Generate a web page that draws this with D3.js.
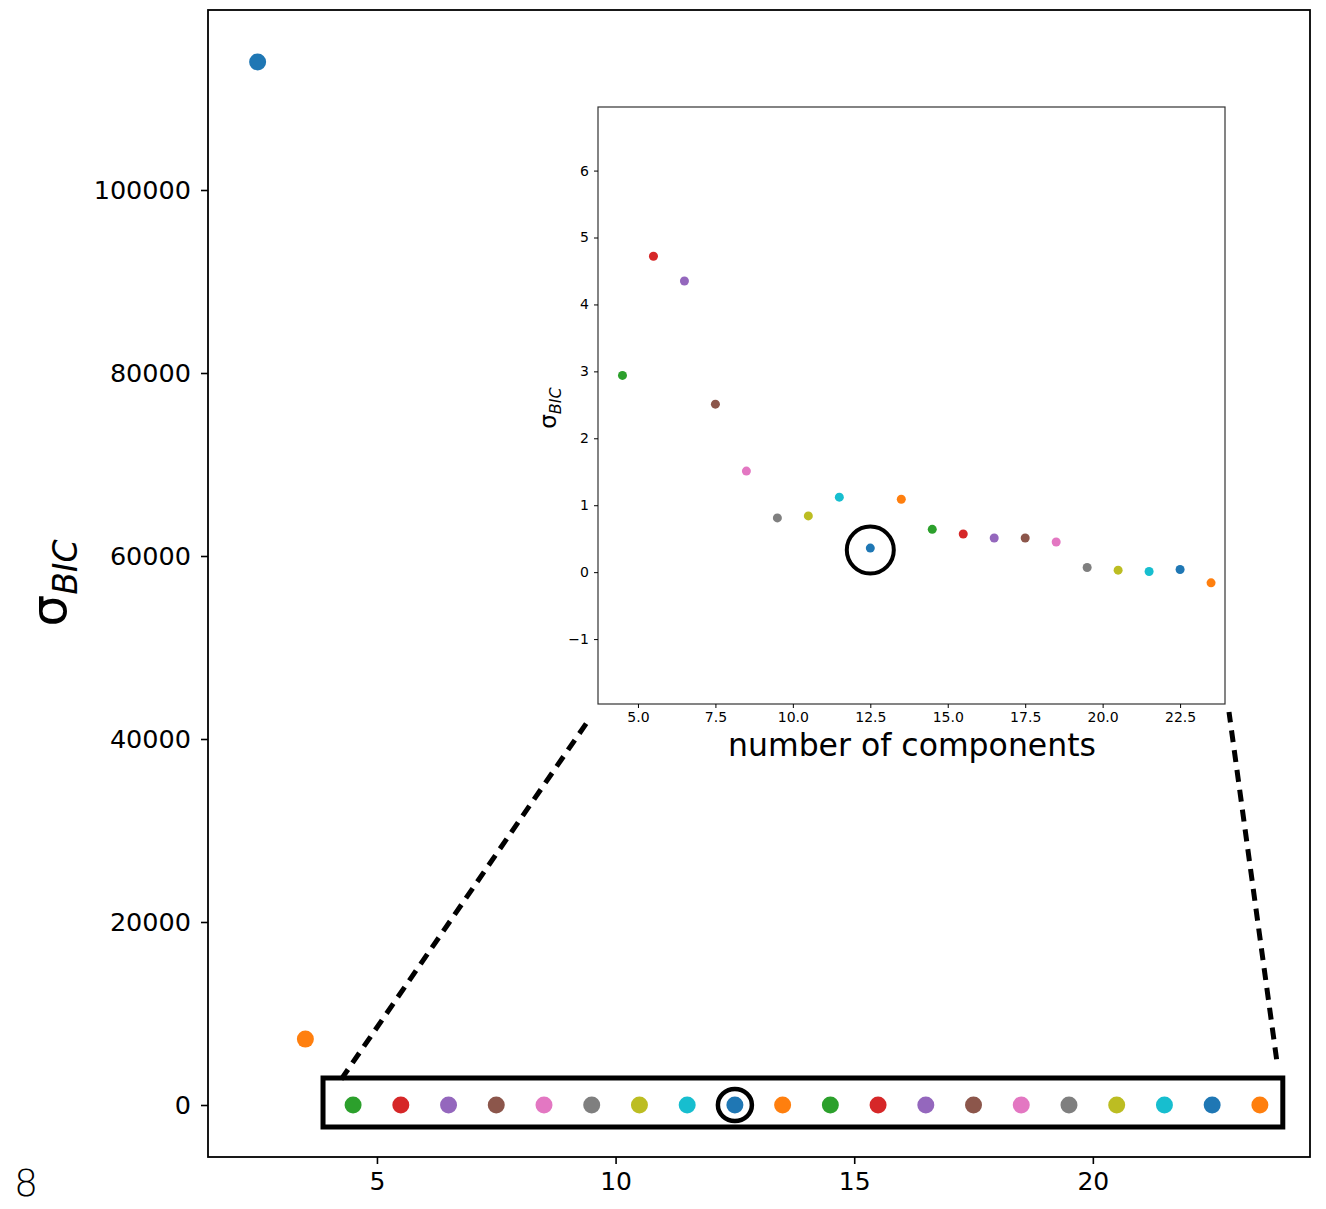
<!DOCTYPE html>
<html>
<head>
<meta charset="utf-8">
<script src="https://d3js.org/d3.v7.min.js"></script>
<style>
body { margin: 0; background: #fff; }
text { font-family: "DejaVu Sans", sans-serif; fill: #000; }
</style>
</head>
<body>
<div id="chart"></div>
<script>
// main panel: number of components vs sigma_BIC
var mainX = [2.5, 3.5, 4.5, 5.5, 6.5, 7.5, 8.5, 9.5, 10.5, 11.5, 12.5, 13.5, 14.5, 15.5, 16.5, 17.5, 18.5, 19.5, 20.5, 21.5, 22.5, 23.5];
var mainY = [114000, 7200, 2.94, 4.72, 4.35, 2.51, 1.51, 0.81, 0.84, 1.12, 0.36, 1.09, 0.64, 0.57, 0.51, 0.51, 0.45, 0.07, 0.03, 0.01, 0.04, -0.16];
var mainXTicks = [5, 10, 15, 20];
var mainYTicks = [0, 20000, 40000, 60000, 80000, 100000];

// zoomed inset (components 4.5 .. 23.5)
var insetX = mainX.slice(2);
var insetY = mainY.slice(2);
var insetXTicks = [5.0, 7.5, 10.0, 12.5, 15.0, 17.5, 20.0, 22.5];
var insetYTicks = [-1, 0, 1, 2, 3, 4, 5, 6];
var chosen = 12.5;

var tab10 = ["#1f77b4", "#ff7f0e", "#2ca02c", "#d62728", "#9467bd", "#8c564b", "#e377c2", "#7f7f7f", "#bcbd22", "#17becf"];

var W = 1326, H = 1209;
var svg = d3.select("#chart").append("svg")
  .attr("width", W).attr("height", H);

// ---- main axes
var x = d3.scaleLinear().domain([1.46, 24.55]).range([208, 1310]);
var y = d3.scaleLinear().domain([-5683, 119672]).range([1157, 10]);

svg.append("g")
  .attr("transform", "translate(0,1157)")
  .call(d3.axisBottom(x).tickValues(mainXTicks).tickSize(7).tickPadding(8).tickFormat(d3.format("d")))
  .call(function(g) { g.select(".domain").remove(); g.selectAll("text").attr("font-size", 25); g.selectAll("line").attr("stroke-width", 1.6); });
svg.append("g")
  .attr("transform", "translate(208,0)")
  .call(d3.axisLeft(y).tickValues(mainYTicks).tickSize(7).tickPadding(10).tickFormat(d3.format("d")))
  .call(function(g) { g.select(".domain").remove(); g.selectAll("text").attr("font-size", 25.5); g.selectAll("line").attr("stroke-width", 1.6); });

svg.append("rect")
  .attr("x", 208).attr("y", 10).attr("width", 1310 - 208).attr("height", 1157 - 10)
  .attr("fill", "none").attr("stroke", "#000").attr("stroke-width", 1.8);

svg.append("g").selectAll("circle")
  .data(mainX)
  .enter().append("circle")
  .attr("cx", function(d) { return x(d); })
  .attr("cy", function(d, i) { return y(mainY[i]); })
  .attr("r", 8.5)
  .attr("fill", function(d, i) { return tab10[i % 10]; });

// highlight box around the near-zero points
var boxX = [3.87, 23.98], boxY = [2951, -2404];
svg.append("rect")
  .attr("x", x(boxX[0])).attr("y", y(boxY[0]))
  .attr("width", x(boxX[1]) - x(boxX[0])).attr("height", y(boxY[1]) - y(boxY[0]))
  .attr("fill", "none").attr("stroke", "#000").attr("stroke-width", 5);

svg.append("ellipse")
  .attr("cx", x(chosen)).attr("cy", y(0))
  .attr("rx", 17).attr("ry", 16)
  .attr("fill", "none").attr("stroke", "#000").attr("stroke-width", 4.5);

svg.append("text")
  .attr("transform", "translate(66,583) rotate(-90)")
  .attr("text-anchor", "middle")
  .attr("font-size", 50)
  .html('σ<tspan font-size="33" dy="11" font-style="italic">BIC</tspan>');

svg.append("text")
  .attr("x", 26).attr("y", 1196)
  .attr("text-anchor", "middle")
  .attr("font-family", "Open Sans")
  .attr("font-weight", 300)
  .attr("font-size", 38)
  .text("8");

// ---- inset
var ix = d3.scaleLinear().domain([3.71, 23.95]).range([598, 1225]);
var iy = d3.scaleLinear().domain([-1.97, 6.95]).range([704, 107]);

svg.append("rect")
  .attr("x", 598).attr("y", 107).attr("width", 1225 - 598).attr("height", 704 - 107)
  .attr("fill", "#fff").attr("stroke", "#333").attr("stroke-width", 1.2);

svg.append("g")
  .attr("transform", "translate(0,704)")
  .call(d3.axisBottom(ix).tickValues(insetXTicks).tickSize(4).tickPadding(4).tickFormat(d3.format(".1f")))
  .call(function(g) { g.select(".domain").remove(); g.selectAll("text").attr("font-size", 14); });
svg.append("g")
  .attr("transform", "translate(598,0)")
  .call(d3.axisLeft(iy).tickValues(insetYTicks).tickSize(4).tickPadding(5).tickFormat(function(d) { return d < 0 ? "\u2212" + Math.abs(d) : d; }))
  .call(function(g) { g.select(".domain").remove(); g.selectAll("text").attr("font-size", 14); });

svg.append("g").selectAll("circle")
  .data(insetX)
  .enter().append("circle")
  .attr("cx", function(d) { return ix(d); })
  .attr("cy", function(d, i) { return iy(insetY[i]); })
  .attr("r", 4.5)
  .attr("fill", function(d, i) { return tab10[(i + 2) % 10]; });

svg.append("circle")
  .attr("cx", ix(chosen)).attr("cy", iy(insetY[insetX.indexOf(chosen)]) + 2)
  .attr("r", 23.5)
  .attr("fill", "none").attr("stroke", "#000").attr("stroke-width", 4);

svg.append("text")
  .attr("x", 912).attr("y", 756)
  .attr("text-anchor", "middle")
  .attr("font-size", 31.5)
  .text("number of components");

svg.append("text")
  .attr("transform", "translate(556,408) rotate(-90)")
  .attr("text-anchor", "middle")
  .attr("font-size", 23)
  .html('σ<tspan font-size="16" dy="5" font-style="italic">BIC</tspan>');

// ---- dashed connector lines from box to inset
var connectors = [
  [x(4.25), y(2800), 590, 718],
  [x(23.85), y(5000), 1229, 712]
];
svg.append("g").selectAll("line")
  .data(connectors)
  .enter().append("line")
  .attr("x1", function(d) { return d[0]; })
  .attr("y1", function(d) { return d[1]; })
  .attr("x2", function(d) { return d[2]; })
  .attr("y2", function(d) { return d[3]; })
  .attr("stroke", "#000")
  .attr("stroke-width", 5)
  .attr("stroke-dasharray", "12,8");
</script>
</body>
</html>
